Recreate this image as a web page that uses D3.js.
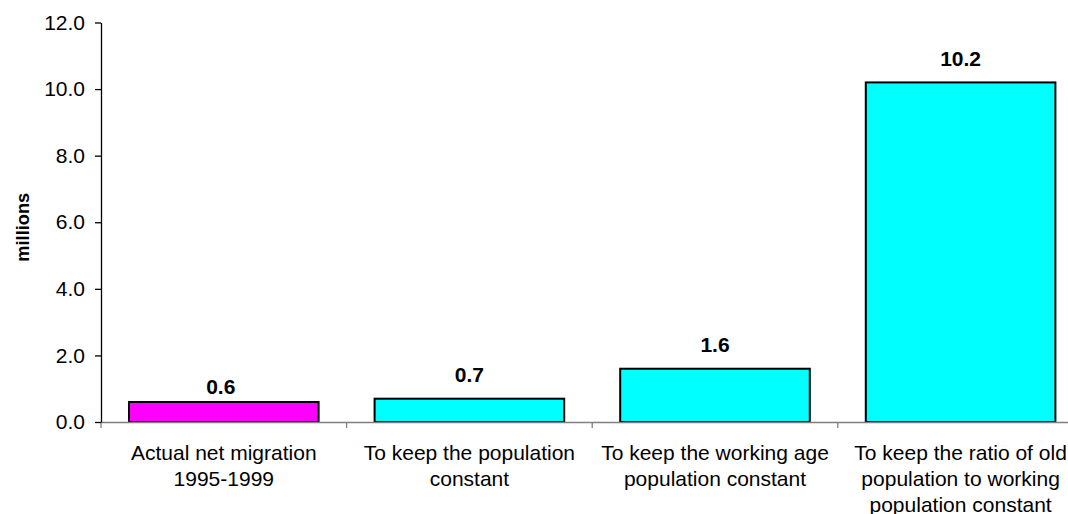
<!DOCTYPE html>
<html>
<head>
<meta charset="utf-8">
<script src="https://cdn.jsdelivr.net/npm/d3@7"></script>
<style>
  html, body { margin: 0; padding: 0; background: #fff; }
  svg { display: block; font-family: "Liberation Sans", Arial, sans-serif; }
</style>
</head>
<body>
<svg id="chart" width="1068" height="514"></svg>
<script>
// Net migration needed, in millions
const categories = [
  "Actual net migration\n1995-1999",
  "To keep the population\nconstant",
  "To keep the working age\npopulation constant",
  "To keep the ratio of old\npopulation to working\npopulation constant"
];
const values = [0.6, 0.7, 1.6, 10.2];
const scenario = ["actual", "required", "required", "required"];
const yTicks = [0, 2, 4, 6, 8, 10, 12];
const yTitle = "millions";

const svg = d3.select("#chart");
const plot = { left: 101, right: 1083.4, top: 22.5, bottom: 422 };

const x = d3.scaleBand().domain(categories).range([plot.left, plot.right]).padding(0);
const y = d3.scaleLinear().domain([0, 12]).range([plot.bottom, plot.top]);
const color = d3.scaleOrdinal().domain(["actual", "required"]).range(["#FF00FF", "#00FFFF"]);

const barW = x.bandwidth() * 0.772;

// Bars
svg.append("g").selectAll("rect")
  .data(values)
  .join("rect")
  .attr("x", (d, i) => x(categories[i]) + (x.bandwidth() - barW) / 2)
  .attr("y", d => y(d))
  .attr("width", barW)
  .attr("height", d => y(0) - y(d))
  .attr("fill", (d, i) => color(scenario[i]))
  .attr("stroke", "#000")
  .attr("stroke-width", 2);

// Value labels above bars
svg.append("g").selectAll("text")
  .data(values)
  .join("text")
  .attr("x", (d, i) => x(categories[i]) + x.bandwidth() / 2 - (i === 0 ? 3 : 0))
  .attr("y", (d, i) => y(d) - (i === 0 ? 8 : 16.5))
  .attr("text-anchor", "middle")
  .attr("font-size", 21)
  .attr("font-weight", "bold")
  .attr("fill", "#000")
  .text(d => d3.format(".1f")(d));

// X axis: baseline plus category boundary ticks
const xAxis = svg.append("g").attr("transform", `translate(0,${plot.bottom})`);
xAxis.call(d3.axisBottom(x).tickSize(0).tickFormat(""));
xAxis.select(".domain").attr("stroke", "#808080").attr("stroke-width", 1.3);
const bounds = categories.map(c => x(c)).concat([x(categories[categories.length - 1]) + x.bandwidth()]);
xAxis.selectAll("line.bound")
  .data(bounds)
  .join("line")
  .attr("class", "bound")
  .attr("x1", d => d).attr("x2", d => d)
  .attr("y1", 0).attr("y2", 6)
  .attr("stroke", "#808080")
  .attr("stroke-width", 1.3);

// Category labels (multi-line)
const labels = svg.append("g");
categories.forEach(c => {
  const t = labels.append("text")
    .attr("text-anchor", "middle")
    .attr("font-size", 21)
    .attr("fill", "#000");
  c.split("\n").forEach((line, j) => {
    t.append("tspan")
      .attr("x", x(c) + x.bandwidth() / 2)
      .attr("y", 460 + j * 26)
      .text(line);
  });
});

// Y axis
const yAxis = svg.append("g").attr("transform", `translate(${plot.left},0)`)
  .call(d3.axisLeft(y).tickValues(yTicks).tickFormat(d3.format(".1f")).tickSize(6).tickPadding(10).tickSizeOuter(0));
yAxis.select(".domain").attr("stroke", "#000").attr("stroke-width", 1.3);
yAxis.selectAll(".tick line").attr("stroke", "#000").attr("stroke-width", 1.3);
yAxis.selectAll(".tick text")
  .attr("font-size", 21)
  .attr("font-family", "Liberation Sans, Arial, sans-serif")
  .attr("fill", "#000");

// Y axis title
svg.append("text")
  .attr("transform", `translate(28.5,${(plot.top + plot.bottom) / 2 + 5}) rotate(-90)`)
  .attr("text-anchor", "middle")
  .attr("font-size", 18.3)
  .attr("font-weight", "bold")
  .attr("fill", "#000")
  .text(yTitle);
</script>
</body>
</html>
